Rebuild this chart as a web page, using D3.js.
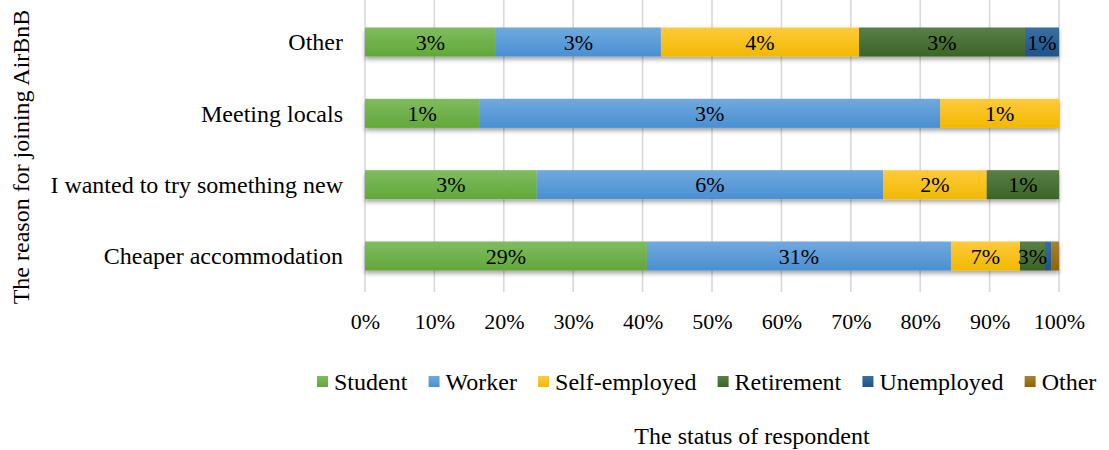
<!DOCTYPE html>
<html>
<head>
<meta charset="utf-8">
<script src="https://cdn.jsdelivr.net/npm/d3@7"></script>
<style>
  html, body { margin: 0; padding: 0; background: #fff; }
  svg { display: block; }
  text { font-family: "Liberation Serif", "Times New Roman", serif; fill: #000; }
</style>
</head>
<body>
<svg id="chart" width="1109" height="450"></svg>
<script>
// ---- Data (percent of all respondents) ----
const categories = ["Other", "Meeting locals", "I wanted to try something new", "Cheaper accommodation"];
const seriesNames = ["Student", "Worker", "Self-employed", "Retirement", "Unemployed", "Other"];
// values in the same order as `categories`
const student      = [2.73, 0.74, 2.97, 28.8];
const worker       = [3.44, 2.99, 5.99, 31.06];
const selfEmployed = [4.13, 0.77, 1.79, 7.05];
const retirement   = [3.46, 0.00, 1.25, 2.56];
const unemployed   = [0.71, 0.00, 0.00, 0.68];
const otherStatus  = [0.00, 0.00, 0.00, 0.75];
const tickValues = [0, 0.1, 0.2, 0.3, 0.4, 0.5, 0.6, 0.7, 0.8, 0.9, 1.0];
const xTitle = "The status of respondent";
const yTitle = "The reason for joining AirBnB";

const seriesValues = [student, worker, selfEmployed, retirement, unemployed, otherStatus];
const colorsTop    = ["#80bc5f", "#70a9de", "#ffca3c", "#5a7f47", "#3a6fa1", "#a88232"];
const colorsBottom = ["#62a73b", "#4a8fd2", "#f1b900", "#3b6426", "#1f5288", "#8f6400"];

// build table
const rows = categories.map((c, i) => {
  const r = { category: c };
  seriesNames.forEach((s, j) => r[s] = seriesValues[j][i]);
  return r;
});
const stacked = d3.stack().keys(seriesNames).offset(d3.stackOffsetExpand)(rows);

const svg = d3.select("#chart");
const defs = svg.append("defs");
seriesNames.forEach((s, j) => {
  const g = defs.append("linearGradient").attr("id", "grad" + j)
    .attr("x1", 0).attr("y1", 0).attr("x2", 0).attr("y2", 1);
  g.append("stop").attr("offset", "0%").attr("stop-color", colorsTop[j]);
  g.append("stop").attr("offset", "100%").attr("stop-color", colorsBottom[j]);
});
const f = defs.append("filter").attr("id", "shadow")
  .attr("x", "-5%").attr("y", "-30%").attr("width", "110%").attr("height", "180%");
f.append("feDropShadow").attr("dx", 0).attr("dy", 3).attr("stdDeviation", 2.2)
  .attr("flood-color", "#000").attr("flood-opacity", 0.35);

const x = d3.scaleLinear().domain([0, 1]).range([365, 1059]);
const y = d3.scaleBand().domain(categories).range([6.33, 291.67])
  .paddingInner(0.593).paddingOuter(0.2965);

// gridlines
svg.append("g").selectAll("line").data(tickValues).join("line")
  .attr("x1", d => x(d)).attr("x2", d => x(d))
  .attr("y1", 0).attr("y2", 292)
  .attr("stroke", "#d9d9d9").attr("stroke-width", 1.6);

// x axis tick labels
const xAxis = svg.append("g").attr("transform", "translate(0,313)")
  .call(d3.axisBottom(x).tickValues(tickValues).tickFormat(d3.format(".0%")).tickSize(0).tickPadding(0));
xAxis.select(".domain").remove();
xAxis.selectAll("text").attr("font-size", "22px").attr("font-family", "Liberation Serif").attr("fill", "#000").attr("dy", "0.71em");

// bars
const barGroup = svg.append("g").attr("filter", "url(#shadow)");
stacked.forEach((layer, j) => {
  barGroup.append("g").attr("fill", `url(#grad${j})`)
    .selectAll("rect").data(layer).join("rect")
    .attr("x", d => x(d[0]))
    .attr("width", d => Math.max(0, x(d[1]) - x(d[0])))
    .attr("y", d => y(d.data.category))
    .attr("height", y.bandwidth());
});

// bar labels
const fmt = d3.format(".0%");
stacked.forEach((layer, j) => {
  svg.append("g").selectAll("text")
    .data(layer.filter(d => d.data[seriesNames[j]] > 0 && (x(d[1]) - x(d[0])) > 15))
    .join("text")
    .attr("x", d => (x(d[0]) + x(d[1])) / 2)
    .attr("y", d => y(d.data.category) + y.bandwidth() / 2)
    .attr("dy", "0.35em")
    .attr("text-anchor", "middle")
    .attr("font-size", "22px")
    .text(d => fmt(d.data[seriesNames[j]] / 100));
});

// category labels
svg.append("g").selectAll("text").data(categories).join("text")
  .attr("x", 343)
  .attr("y", d => y(d) + y.bandwidth() / 2)
  .attr("dy", "0.35em")
  .attr("text-anchor", "end")
  .attr("font-size", "24px")
  .text(d => d);

// y title
svg.append("text")
  .attr("transform", "translate(29,157) rotate(-90)")
  .attr("text-anchor", "middle")
  .attr("font-size", "24px")
  .text(yTitle);

// x title
svg.append("text")
  .attr("x", 752).attr("y", 444)
  .attr("text-anchor", "middle")
  .attr("font-size", "24px")
  .text(xTitle);

// legend
const legend = svg.append("g").attr("transform", "translate(317,0)");
let lx = 0;
seriesNames.forEach((s, j) => {
  const g = legend.append("g").attr("transform", `translate(${lx},0)`);
  g.append("rect").attr("x", 0).attr("y", 376).attr("width", 11).attr("height", 11)
    .attr("fill", `url(#grad${j})`);
  const t = g.append("text").attr("x", 17).attr("y", 390).attr("font-size", "24px").text(s);
  lx += 17 + t.node().getComputedTextLength() + 21.2;
});
</script>
</body>
</html>
